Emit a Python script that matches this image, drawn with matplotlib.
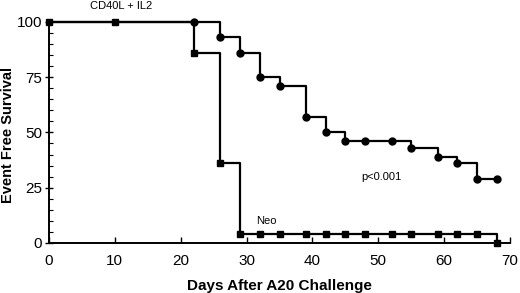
import matplotlib.pyplot as plt
from matplotlib.ticker import MultipleLocator

plt.rcParams['font.family'] = ['Liberation Sans', 'DejaVu Sans']

# CD40L + IL2 group (circles)
cd40_days = [22, 26, 29, 32, 35, 39, 42, 45, 48, 52, 55, 59, 62, 65, 68]
cd40_surv = [100, 93, 86, 75, 71, 57, 50, 46, 46, 46, 43, 39, 36, 29, 29]

# Neo group (squares)
neo_days = [0, 10, 22, 26, 29, 32, 35, 39, 42, 45, 48, 52, 55, 59, 62, 65, 68]
neo_surv = [100, 100, 86, 36, 4, 4, 4, 4, 4, 4, 4, 4, 4, 4, 4, 4, 0]

fig = plt.figure(figsize=(5.2, 2.93), dpi=100)
ax = fig.add_axes([0.094, 0.171, 0.887, 0.754])

# survival curves start at 100 from day 0
ax.step([0] + cd40_days, [100] + cd40_surv, where='post', color='black', lw=1.6,
        clip_on=False)
ax.plot(cd40_days, cd40_surv, 'o', color='black', ms=5, clip_on=False)
ax.step(neo_days, neo_surv, where='post', color='black', lw=1.6, clip_on=False)
ax.plot(neo_days, neo_surv, 's', color='black', ms=5, clip_on=False)

ax.set_xlim(0, 70)
ax.set_ylim(0, 100)
ax.xaxis.set_major_locator(MultipleLocator(10))
ax.yaxis.set_major_locator(MultipleLocator(25))
ax.yaxis.set_minor_locator(MultipleLocator(5))
ax.tick_params(axis='x', direction='in', length=4, width=1, labelsize=11, pad=8)
ax.tick_params(axis='y', which='major', direction='inout', length=6, width=1,
               labelsize=11, pad=2)
ax.tick_params(axis='y', which='minor', direction='in', length=3, width=0.8)
for s in ['top', 'right']:
    ax.spines[s].set_visible(False)
for s in ['left', 'bottom']:
    ax.spines[s].set_linewidth(1.4)

ax.set_xlabel('Days After A20 Challenge', fontsize=11, fontweight='bold', labelpad=8)
fig.text(0.015, 0.54, 'Event Free Survival', fontsize=10.5, fontweight='bold',
         rotation=90, ha='center', va='center')

ax.text(11, 105, 'CD40L + IL2', fontsize=8, ha='center', va='bottom')
ax.text(33, 10, 'Neo', fontsize=8, ha='center', va='center')
ax.text(50.5, 30, 'p<0.001', fontsize=8, ha='center', va='center')

fig.savefig('out.png', dpi=100)
